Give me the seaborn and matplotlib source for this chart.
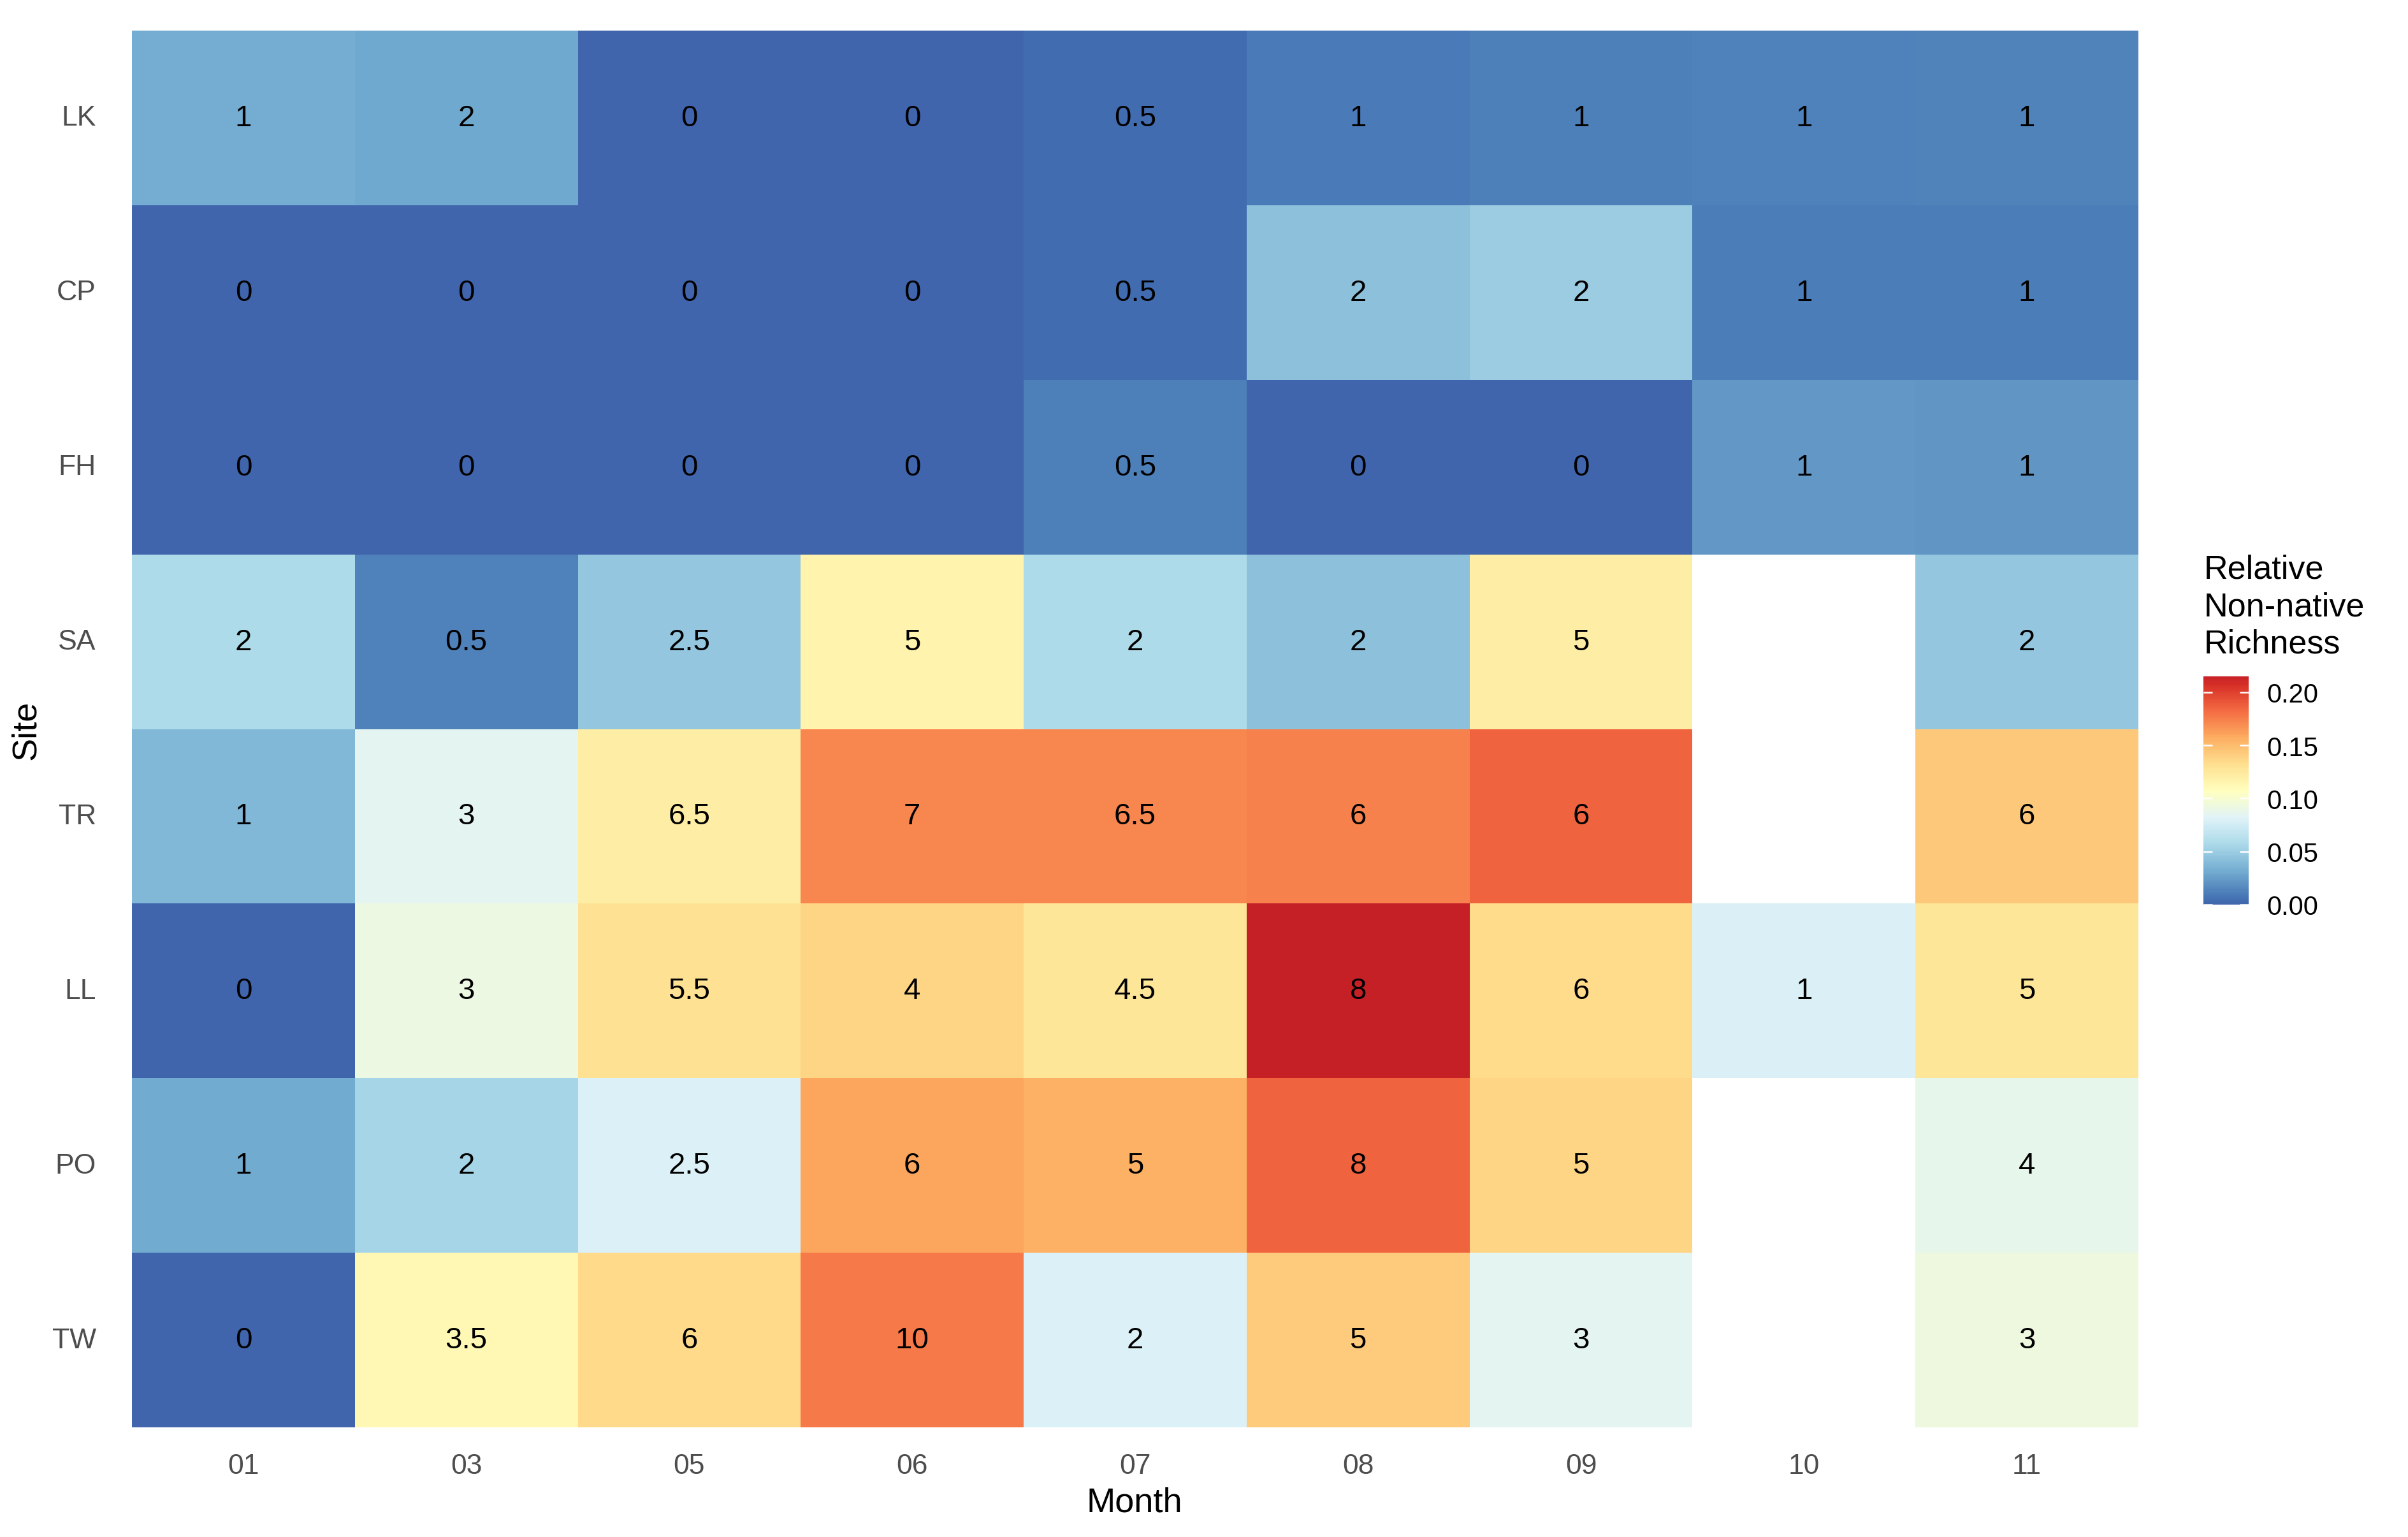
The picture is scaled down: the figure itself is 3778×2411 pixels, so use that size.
import matplotlib
matplotlib.use("Agg")
import matplotlib.pyplot as plt
from matplotlib.colors import ListedColormap
import seaborn as sns
import numpy as np
import pandas as pd

# データ
months = ["01", "03", "05", "06", "07", "08", "09", "10", "11"]
sites = ["LK", "CP", "FH", "SA", "TR", "LL", "PO", "TW"]

# 非在来種の数（セル内の表示値）
count_LK = [1, 2, 0, 0, 0.5, 1, 1, 1, 1]
count_CP = [0, 0, 0, 0, 0.5, 2, 2, 1, 1]
count_FH = [0, 0, 0, 0, 0.5, 0, 0, 1, 1]
count_SA = [2, 0.5, 2.5, 5, 2, 2, 5, np.nan, 2]
count_TR = [1, 3, 6.5, 7, 6.5, 6, 6, np.nan, 6]
count_LL = [0, 3, 5.5, 4, 4.5, 8, 6, 1, 5]
count_PO = [1, 2, 2.5, 6, 5, 8, 5, np.nan, 4]
count_TW = [0, 3.5, 6, 10, 2, 5, 3, np.nan, 3]

# 相対的な非在来種の豊富さ（色）
rel_LK = [0.032, 0.030, 0, 0, 0.004, 0.010, 0.011, 0.012, 0.013]
rel_CP = [0, 0, 0, 0, 0.004, 0.043, 0.050, 0.0105, 0.0105]
rel_FH = [0, 0, 0, 0, 0.011, 0, 0, 0.0226, 0.021]
rel_SA = [0.058, 0.012, 0.047, 0.116, 0.058, 0.043, 0.121, np.nan, 0.047]
rel_TR = [0.038, 0.085, 0.121, 0.172, 0.172, 0.174, 0.185, np.nan, 0.144]
rel_LL = [0, 0.092, 0.131, 0.138, 0.127, 0.215, 0.134, 0.079, 0.127]
rel_PO = [0.031, 0.054, 0.080, 0.160, 0.156, 0.185, 0.138, np.nan, 0.088]
rel_TW = [0, 0.112, 0.135, 0.177, 0.080, 0.142, 0.085, np.nan, 0.093]

rel_max = 0.215
cbar_ticks = [0.00, 0.05, 0.10, 0.15, 0.20]

counts = pd.DataFrame([count_LK, count_CP, count_FH, count_SA, count_TR,
                       count_LL, count_PO, count_TW], index=sites, columns=months)
rel = pd.DataFrame([rel_LK, rel_CP, rel_FH, rel_SA, rel_TR,
                    rel_LL, rel_PO, rel_TW], index=sites, columns=months)
labels = counts.map(lambda v: "" if pd.isna(v) else f"{v:g}")

plt.rcParams['font.family'] = ['Liberation Sans', 'DejaVu Sans']

cmap = ListedColormap(plt.get_cmap("RdYlBu_r")(np.linspace(0.075, 0.93, 256)))

W, H = 3779, 2412
fig = plt.figure(figsize=(W / 300, H / 300), dpi=300)
ax = fig.add_axes([207 / W, 1 - 2240 / H, (3355 - 207) / W, (2240 - 49) / H])
cax = fig.add_axes([3457 / W, 1 - 1420 / H, 71 / W, 358 / H])

sns.heatmap(rel, ax=ax, cmap=cmap, vmin=0, vmax=rel_max,
            annot=labels, fmt="", cbar_ax=cax,
            annot_kws={"fontsize": 11.4, "color": "black"},
            cbar_kws={"ticks": cbar_ticks})

ax.set_xlabel("")
ax.set_ylabel("")
ax.tick_params(axis="both", length=0, labelsize=10.7, labelcolor="#4D4D4D")
ax.tick_params(axis="y", pad=13.5)
ax.tick_params(axis="x", pad=9.5)
plt.setp(ax.get_yticklabels(), rotation=0)
plt.setp(ax.get_xticklabels(), rotation=0)

fig.text(41 / W, 1 - 1145 / H, "Site", rotation=90, ha="center", va="center", fontsize=13)
fig.text(1780 / W, 1 - 2358 / H, "Month", ha="center", va="center", fontsize=13)

# カラーバー
cbar = ax.collections[0].colorbar
cbar.outline.set_visible(False)
cax.yaxis.set_ticks_position("both")
cax.tick_params(axis="y", direction="in", color="white", length=3.4, width=0.6,
                labelsize=10, pad=6.7, labelleft=False, labelright=True)
cbar.set_ticklabels([f"{t:.2f}" for t in cbar_ticks])
fig.text(3458 / W, 1 - 870 / H, "Relative\nNon-native\nRichness",
         ha="left", va="top", fontsize=12.5, linespacing=1.25)

fig.savefig("out.png", dpi=300)
